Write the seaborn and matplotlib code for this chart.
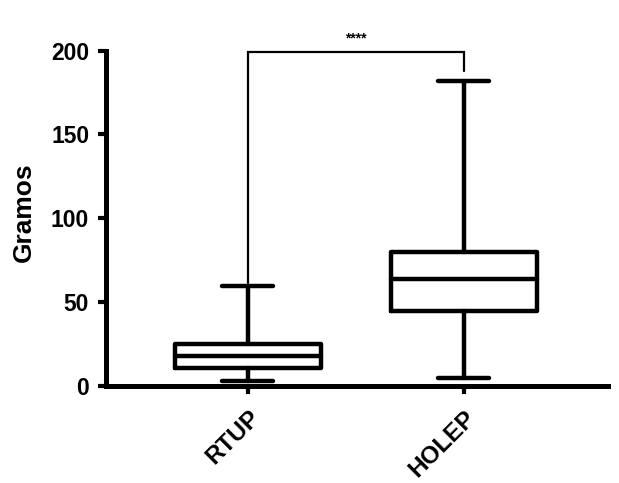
import matplotlib
matplotlib.use("Agg")
import matplotlib.pyplot as plt
import matplotlib.transforms as mtransforms
import seaborn as sns
import pandas as pd

# Data: five-number summaries
groups = ["RTUP", "HOLEP"]
rtup_vals = [3, 11, 18, 25, 60]     # min, Q1, median, Q3, max
holep_vals = [5, 45, 64, 80, 182]
yticks = [0, 50, 100, 150, 200]
ylabel = "Gramos"
sig_text = "****"

df = pd.DataFrame({
    "grupo": [groups[0]] * len(rtup_vals) + [groups[1]] * len(holep_vals),
    "gramos": rtup_vals + holep_vals,
})

sns.set_style("ticks")
plt.rcParams["font.family"] = ["Liberation Sans", "DejaVu Sans"]
plt.rcParams["font.weight"] = "bold"
for k in ["text.color", "axes.labelcolor", "xtick.color", "ytick.color", "axes.edgecolor"]:
    plt.rcParams[k] = "black"

fig = plt.figure(figsize=(6.19, 4.83), dpi=100)
ax = fig.add_axes([0.171, 0.200, 0.811, 0.6954])

lw = 3.2
props = dict(color="black", linewidth=lw, solid_capstyle="round", solid_joinstyle="round")
sns.boxplot(
    data=df, x="grupo", y="gramos", order=groups, ax=ax,
    whis=(0, 100), width=0.676, fill=False, color="black", linewidth=lw,
    boxprops=dict(props),
    medianprops=dict(props), whiskerprops=dict(props), capprops=dict(props),
    showfliers=False,
)

# narrower caps
capw = 0.236
for line in ax.lines:
    xd = list(line.get_xdata())
    yd = list(line.get_ydata())
    if len(xd) == 2 and yd[0] == yd[1]:
        width = abs(xd[1] - xd[0])
        if width < 0.5:  # cap lines
            c = (xd[0] + xd[1]) / 2
            line.set_xdata([c - capw / 2, c + capw / 2])

ax.set_xlim(-0.657, 1.667)
ax.set_ylim(0, 200)
ax.set_yticks(yticks)
ax.set_yticklabels([str(t) for t in yticks], fontsize=16.5, fontweight="bold")
ax.set_xticks(range(len(groups)))
ax.set_xticklabels(groups, fontsize=17.5, fontweight="bold", rotation=45,
                   ha="right", rotation_mode="anchor")
offset = mtransforms.ScaledTranslation(-6 / 100, 0, fig.dpi_scale_trans)
for lab in ax.get_xticklabels():
    lab.set_transform(lab.get_transform() + offset)
ax.set_xlabel("")
ax.set_ylabel(ylabel, fontsize=19, fontweight="bold")
ax.yaxis.set_label_coords(-0.140, 0.518)

for side in ["top", "right"]:
    ax.spines[side].set_visible(False)
for side in ["left", "bottom"]:
    ax.spines[side].set_linewidth(3.6)
    ax.spines[side].set_color("black")
ax.tick_params(axis="y", width=3, length=6, color="black", pad=6)
ax.tick_params(axis="x", width=3, length=6, color="black", pad=8)

# significance bracket
ax.plot([0, 0, 1, 1], [61.5, 199, 199, 188], color="black", lw=1.6,
        clip_on=False, solid_joinstyle="miter")
ax.text(0.5, 204.5, sig_text, ha="center", va="baseline", fontsize=10,
        fontweight="bold")

fig.savefig("out.png", dpi=100)
